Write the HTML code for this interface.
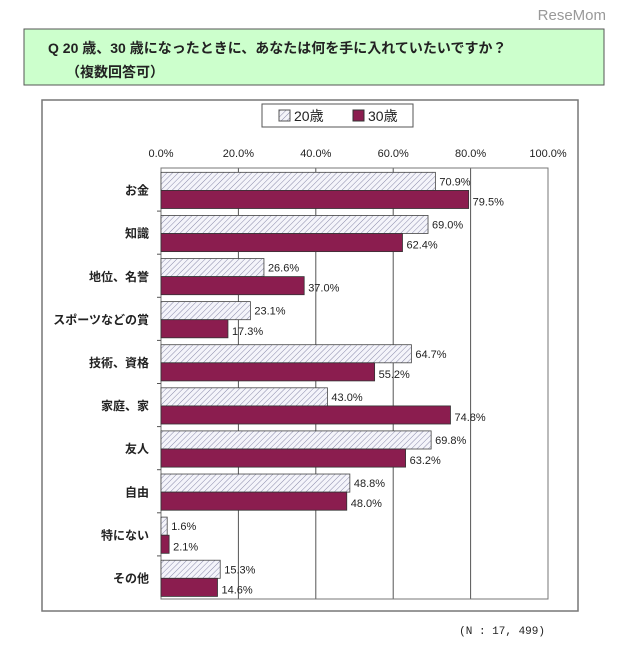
<!DOCTYPE html>
<html><head><meta charset="utf-8"><style>
body{margin:0;background:#fff;width:620px;height:640px;overflow:hidden;font-family:"Liberation Sans","Noto Sans CJK JP",sans-serif;}
</style></head><body>
<svg width="620" height="640" xmlns="http://www.w3.org/2000/svg">
<defs>
<pattern id="hatch" patternUnits="userSpaceOnUse" width="4" height="4" patternTransform="rotate(45)">
<rect width="4" height="4" fill="#f4f4fa"/><line x1="0" y1="0" x2="0" y2="4" stroke="#8a8aaa" stroke-width="1"/>
</pattern>
</defs>
<text x="606" y="20" text-anchor="end" font-size="15" fill="#999">ReseMom</text>
<rect x="24" y="29" width="580" height="56" fill="#ccffcc" stroke="#555" stroke-width="1"/>
<text x="48" y="53" font-size="14" font-weight="bold" fill="#222">Q  20 歳、30 歳になったときに、あなたは何を手に入れていたいですか？</text>
<text x="66" y="77" font-size="14" font-weight="bold" fill="#222">（複数回答可）</text>
<rect x="42" y="100" width="536" height="511" fill="#fff" stroke="#777" stroke-width="1.5"/>
<g>
<rect x="262" y="104" width="151" height="23" fill="#fff" stroke="#555"/>
<rect x="279" y="110" width="11" height="11" fill="url(#hatch)" stroke="#555"/>
<text x="294" y="121" font-size="14" fill="#222">20歳</text>
<rect x="353" y="110" width="11" height="11" fill="#8b1d4f" stroke="#333"/>
<text x="368" y="121" font-size="14" fill="#222">30歳</text>
</g>
<g id="plot"></g>
<text x="545" y="634" text-anchor="end" font-size="11" fill="#222" font-family="Liberation Mono, monospace">(N : 17, 499)</text>
</svg>
<script>
const categories=["お金","知識","地位、名誉","スポーツなどの賞","技術、資格","家庭、家","友人","自由","特にない","その他"];
const values20=[70.9,69.0,26.6,23.1,64.7,43.0,69.8,48.8,1.6,15.3];
const values30=[79.5,62.4,37.0,17.3,55.2,74.8,63.2,48.0,2.1,14.6];
const ticks=[0,20,40,60,80,100];
const NS="http://www.w3.org/2000/svg";
const X0=161,X1=548,TOP=168,BOT=599;
function xs(v){return X0+(X1-X0)*v/100;}
function bandTop(i){return TOP+(BOT-TOP)*i/categories.length;}
const band=(BOT-TOP)/categories.length;
const g=document.getElementById('plot');
function mk(t,a){const e=document.createElementNS(NS,t);for(const k in a)e.setAttribute(k,a[k]);g.appendChild(e);return e;}
ticks.forEach(t=>{
  const l=mk('text',{x:xs(t),y:157,'text-anchor':'middle','font-size':11,fill:'#222'});
  l.textContent=t.toFixed(1)+'%';
  
  
  if(t>0&&t<100){const gl=mk('line',{x1:xs(t),x2:xs(t),y1:TOP,y2:BOT,stroke:'#555','stroke-width':1});
  
  }
});
const pr=mk('rect',{x:X0,y:TOP,width:X1-X0,height:BOT-TOP,fill:'none',stroke:'#777','stroke-width':1});


categories.forEach((c,i)=>{
  const t=bandTop(i);
  if(i>0){const tk=mk('line',{x1:X0-4,x2:X0,y1:t,y2:t,stroke:'#555'});
  
  }
  const lab=mk('text',{x:149,y:t+band/2+5,'text-anchor':'end','font-size':12,'font-weight':'bold',fill:'#222'});
  lab.textContent=c;
  
  
  const h=band*0.42,y1=t+band*0.1,y2=y1+h;
  const b1=mk('rect',{x:X0,y:y1,width:xs(values20[i])-X0,height:h,fill:'url(#hatch)',stroke:'#444','stroke-width':0.8});
  
  
  const b2=mk('rect',{x:X0,y:y2,width:xs(values30[i])-X0,height:h,fill:'#8b1d4f',stroke:'#333','stroke-width':0.8});
  
  
  const v1=mk('text',{x:xs(values20[i])+4,y:y1+h/2+4,'font-size':11,fill:'#222'});
  v1.textContent=values20[i].toFixed(1)+'%';
  
  
  const v2=mk('text',{x:xs(values30[i])+4,y:y2+h/2+6,'font-size':11,fill:'#222'});
  v2.textContent=values30[i].toFixed(1)+'%';
  
  
});
</script>
</body></html>
